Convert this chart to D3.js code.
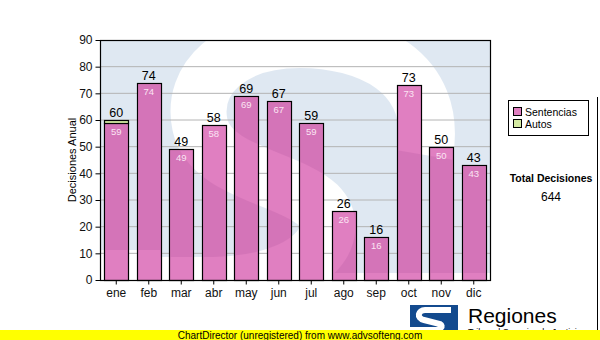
<!DOCTYPE html>
<html>
<head>
<meta charset="utf-8">
<script src="https://cdn.jsdelivr.net/npm/d3@7"></script>
<style>
  body { margin: 0; background: #fff; }
  svg text { font-family: "Liberation Sans", Arial, sans-serif; }
</style>
</head>
<body>
<svg id="chart" width="600" height="340"></svg>
<script>
// chart values
const months = ["ene", "feb", "mar", "abr", "may", "jun", "jul", "ago", "sep", "oct", "nov", "dic"];
const sentencias = [59, 74, 49, 58, 69, 67, 59, 26, 16, 73, 50, 43];
const autos = [1, 0, 0, 0, 0, 0, 0, 0, 0, 0, 0, 0];
const seriesNames = ["Sentencias", "Autos"];
const yTicks = [0, 10, 20, 30, 40, 50, 60, 70, 80, 90];

const colors = { Sentencias: "#e07fc1", Autos: "#d5eba3" };
const plot = { left: 100, right: 490, top: 40, bottom: 280 };

const svg = d3.select("#chart");
const defs = svg.append("defs");

const x = d3.scaleBand()
  .domain(months)
  .range([plot.left, plot.right])
  .paddingInner(0.27)
  .paddingOuter(0.135);

const y = d3.scaleLinear()
  .domain([0, 90])
  .range([plot.bottom, plot.top]);

const rows = months.map((m, i) => ({ month: m, Sentencias: sentencias[i], Autos: autos[i] }));
const stacked = d3.stack().keys(seriesNames)(rows);

// watermark mask: square with an S cut out
const mask = defs.append("mask").attr("id", "smask");
mask.append("rect")
  .attr("x", plot.left).attr("y", plot.top)
  .attr("width", plot.right - plot.left).attr("height", 233)
  .attr("fill", "#fff");
mask.append("path")
  .attr("d", "M425,155 C440,70 365,40 300,40 C232,40 190,78 200,125 C210,172 290,178 318,205 C345,232 315,282 215,285 L80,285")
  .attr("fill", "none").attr("stroke", "#000").attr("stroke-width", 56);
mask.append("rect").attr("x", 80).attr("y", 250).attr("width", 80).attr("height", 40).attr("fill", "#000");

// background tint
svg.append("rect")
  .attr("x", plot.left).attr("y", plot.top)
  .attr("width", plot.right - plot.left).attr("height", plot.bottom - plot.top)
  .attr("fill", "#dfe8f2")
  .attr("mask", "url(#smask)");

// grid lines
svg.append("g")
  .selectAll("line")
  .data(yTicks.filter(t => t > 0 && t < 90))
  .enter().append("line")
  .attr("x1", plot.left).attr("x2", plot.right)
  .attr("y1", d => y(d)).attr("y2", d => y(d))
  .attr("stroke", "#b4b4b4").attr("stroke-width", 1);

// bars
const bw = Math.round(x.bandwidth());
const barX = d => Math.round(x(d.data.month)) + 0.5;
const barY = d => Math.round(y(d[1])) + 0.5;
const barH = d => Math.round(y(d[0])) - Math.round(y(d[1]));
const clip = defs.append("clipPath").attr("id", "barclip");
stacked.forEach(s => {
  const data = s.filter(d => d[1] > d[0]);
  svg.append("g")
    .selectAll("rect")
    .data(data)
    .enter().append("rect")
    .attr("x", barX).attr("y", barY)
    .attr("width", bw)
    .attr("height", barH)
    .attr("fill", colors[s.key])
    .attr("stroke", "#000").attr("stroke-width", 1.2);
  if (s.key === "Sentencias") {
    clip.selectAll(null)
      .data(data)
      .enter().append("rect")
      .attr("x", d => barX(d) + 1).attr("y", d => barY(d) + 1)
      .attr("width", bw - 2)
      .attr("height", d => barH(d) - 2);
  }
});

// watermark shading over the bars
svg.append("g").attr("clip-path", "url(#barclip)")
  .append("rect")
  .attr("x", plot.left).attr("y", plot.top)
  .attr("width", plot.right - plot.left).attr("height", plot.bottom - plot.top)
  .attr("fill", "#b85aa0")
  .attr("fill-opacity", 0.28)
  .attr("mask", "url(#smask)");

// plot border
svg.append("rect")
  .attr("x", plot.left + 0.5).attr("y", plot.top + 0.5)
  .attr("width", plot.right - plot.left).attr("height", plot.bottom - plot.top)
  .attr("fill", "none").attr("stroke", "#000").attr("stroke-width", 1.2);

// axes
const yAxis = svg.append("g")
  .attr("transform", "translate(" + (plot.left + 0.5) + ",0)")
  .call(d3.axisLeft(y).tickValues(yTicks).tickSize(5).tickPadding(3));
yAxis.select(".domain").remove();
yAxis.selectAll("text").style("font-size", "12px").attr("fill", "#111");

const xAxis = svg.append("g")
  .attr("transform", "translate(0," + (plot.bottom + 0.5) + ")")
  .call(d3.axisBottom(x).tickSize(4).tickPadding(4));
xAxis.select(".domain").remove();
xAxis.selectAll("text").style("font-size", "12px").attr("fill", "#111");

// value labels
const totals = sentencias.map((v, i) => v + autos[i]);
svg.append("g")
  .selectAll("text")
  .data(months)
  .enter().append("text")
  .attr("x", d => x(d) + x.bandwidth() / 2)
  .attr("y", (d, i) => y(totals[i]) - 3)
  .attr("text-anchor", "middle")
  .style("font-size", "12.5px")
  .text((d, i) => totals[i]);

svg.append("g")
  .selectAll("text")
  .data(months)
  .enter().append("text")
  .attr("x", d => x(d) + x.bandwidth() / 2)
  .attr("y", (d, i) => y(sentencias[i]) + 12)
  .attr("text-anchor", "middle")
  .attr("fill", "#fbe4f3")
  .style("font-size", "9.5px")
  .text((d, i) => sentencias[i]);

// y axis title
svg.append("text")
  .attr("transform", "translate(76,160) rotate(-90)")
  .attr("text-anchor", "middle")
  .style("font-size", "11px")
  .text("Decisiones Anual");

// legend
const legend = svg.append("g");
legend.append("rect")
  .attr("x", 508.5).attr("y", 100.5).attr("width", 80).attr("height", 35)
  .attr("fill", "#fff").attr("stroke", "#000");
seriesNames.forEach((name, i) => {
  legend.append("rect")
    .attr("x", 513.5).attr("y", 107.5 + i * 12).attr("width", 8).attr("height", 8)
    .attr("fill", colors[name]).attr("stroke", "#000");
  legend.append("text")
    .attr("x", 525).attr("y", 115.5 + i * 12)
    .style("font-size", "10.5px")
    .text(name);
});

// right edge line
svg.append("line")
  .attr("x1", 597.5).attr("x2", 597.5).attr("y1", 97).attr("y2", 330)
  .attr("stroke", "#000");

// total
svg.append("text")
  .attr("x", 551).attr("y", 182)
  .attr("text-anchor", "middle")
  .style("font-size", "10.5px").style("font-weight", "bold")
  .text("Total Decisiones");
svg.append("text")
  .attr("x", 551).attr("y", 201)
  .attr("text-anchor", "middle")
  .style("font-size", "12px")
  .text(d3.sum(totals));

// logo
const logo = svg.append("g");
logo.append("rect").attr("x", 410).attr("y", 305).attr("width", 48).attr("height", 30).attr("fill", "#134a8e");
logo.append("path")
  .attr("d", "M448,313 L448,310 L425,310 C418,310 416,318 424,320 L440,324 C444,326 440,330 436,330 L410,330")
  .attr("fill", "none").attr("stroke", "#fff").attr("stroke-width", 6);
logo.append("text")
  .attr("x", 468).attr("y", 323)
  .style("font-size", "21px")
  .text("Regiones");
logo.append("text")
  .attr("x", 468).attr("y", 335)
  .style("font-size", "9px")
  .text("Tribunal Superior de Justicia");

// unregistered banner
svg.append("rect").attr("x", 0).attr("y", 330).attr("width", 600).attr("height", 10).attr("fill", "#ffff00");
svg.append("text")
  .attr("x", 300).attr("y", 338.5)
  .attr("text-anchor", "middle")
  .style("font-size", "10px")
  .text("ChartDirector (unregistered) from www.advsofteng.com");
</script>
</body>
</html>
